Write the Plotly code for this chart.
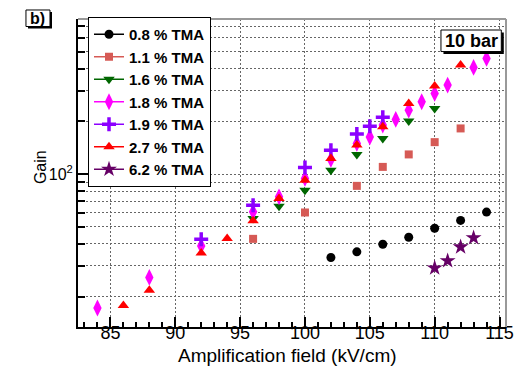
import plotly.graph_objects as go

# ---- data ----
x_08 = [102, 104, 106, 108, 110, 112, 114]
y_08 = [33.4, 36.0, 39.8, 43.6, 49.1, 54.4, 60.7]

x_11 = [96, 100, 104, 106, 108, 110, 112]
y_11 = [42.7, 60.4, 85.7, 110, 129.6, 152.3, 182.4]

x_16 = [96, 98, 100, 102, 104, 106, 108, 110]
y_16 = [55.8, 65.6, 81.0, 105.4, 129.6, 160, 201, 237]

x_18 = [84, 88, 92, 96, 98, 100, 102, 104, 105, 106, 107, 108, 109, 110, 111, 113, 114]
y_18 = [17.2, 25.7, 38.9, 60.9, 74.2, 94.5, 121.4, 149.7, 163, 190.6, 205.4, 232, 259, 289, 322.5, 407, 458]

x_19 = [92, 96, 100, 102, 104, 105, 106]
y_19 = [42.5, 66.5, 109.2, 137, 169.3, 188, 211]

x_27 = [86, 88, 92, 94, 96, 98, 100, 102, 104, 106, 108, 110, 112]
y_27 = [17.8, 21.7, 35.5, 42.9, 54.1, 72.6, 92.4, 123, 146.5, 186.4, 253.5, 318.4, 419.7]

x_62 = [110, 111, 112, 113]
y_62 = [29.1, 32.0, 38.4, 43.3]

labels = ["0.8 % TMA", "1.1 % TMA", "1.6 % TMA", "1.8 % TMA", "1.9 % TMA", "2.7 % TMA", "6.2 % TMA"]
x_major_ticks = [85, 90, 95, 100, 105, 110, 115]
y_major_ticks = [100]
y_major_text = ["10<sup>2</sup>"]
y_minor_ticks = [20, 30, 40, 50, 60, 70, 80, 90, 200, 300, 400, 500, 600, 700]

series = [
    (x_08, y_08, "circle", "#000000", 9),
    (x_11, y_11, "square", "#d65a55", 8),
    (x_16, y_16, "triangle-down", "#006600", 10),
    (x_18, y_18, "diamond-tall", "#ff00ff", 12),
    (x_19, y_19, "cross-thin", "#8c00ff", 10),
    (x_27, y_27, "triangle-up", "#ff0000", 10),
    (x_62, y_62, "star", "#660066", 12),
]

FONT = "Liberation Sans, Arial, Helvetica, sans-serif"
fig = go.Figure()

def mk(sym, col, sz):
    m = dict(symbol=sym, color=col, size=sz)
    if sym == "cross-thin":
        m["line"] = dict(color=col, width=3.5)
    return m

for (xs, ys, sym, col, sz), lab in zip(series, labels):
    fig.add_trace(go.Scatter(x=xs, y=ys, mode="markers", marker=mk(sym, col, sz),
                             showlegend=False, cliponaxis=False))

# legend-only entries (line + marker like the original legend)
for (xs, ys, sym, col, sz), lab in zip(series, labels):
    fig.add_trace(go.Scatter(x=[None], y=[None], mode="lines+markers", name=lab,
                             marker=mk(sym, col, sz), line=dict(color=col, width=1.5)))

# plot area geometry (pixels)
W, H = 531, 368
L, R, T, B = 78, 505.7, 19, 326.7
pw, ph = R - L, B - T

def px(x):
    return (x - L) / pw

def py(y):
    return 1 - (y - T) / ph

fig.update_layout(
    width=W, height=H,
    margin=dict(l=L, r=W - R, t=T, b=H - B, pad=0),
    paper_bgcolor="white", plot_bgcolor="white",
    font=dict(family=FONT, color="black"),
    legend=dict(x=px(88), y=py(17), xanchor="left", yanchor="top",
                bgcolor="white", bordercolor="black", borderwidth=1,
                font=dict(family=FONT, size=15, color="black", weight="bold"),
                tracegroupgap=0, itemclick=False),
    xaxis=dict(range=[82.5, 115.5], tickmode="array", tickvals=x_major_ticks,
               ticks="inside", ticklen=10, tickwidth=1.5, tickcolor="black",
               showline=True, linecolor="black", linewidth=2,
               showgrid=True, gridcolor="#666666", griddash="2px,2px", gridwidth=1,
               zeroline=False, ticklabelstandoff=-12,
               tickfont=dict(family=FONT, size=18, color="black"),
               minor=dict(dtick=1, tick0=85, ticks="inside", ticklen=5,
                          tickcolor="black", tickwidth=1.5, showgrid=False)),
    yaxis=dict(type="log", range=[1.127, 2.886], tickmode="array",
               tickvals=y_major_ticks, ticktext=y_major_text,
               ticks="inside", ticklen=12, tickwidth=1.5, tickcolor="black",
               showline=True, linecolor="black", linewidth=2,
               showgrid=True, gridcolor="#666666", griddash="2px,2px", gridwidth=1,
               zeroline=False,
               tickfont=dict(family=FONT, size=16, color="black"),
               minor=dict(tickmode="array", tickvals=y_minor_ticks, ticks="inside",
                          ticklen=7, tickcolor="black", tickwidth=1.5,
                          showgrid=True, gridcolor="#666666", griddash="2px,2px",
                          gridwidth=1)),
)

shapes = []
# top and right frame lines (gray)
shapes.append(dict(type="line", xref="paper", yref="paper", x0=0, x1=1, y0=1, y1=1,
                   line=dict(color="#999999", width=2)))
shapes.append(dict(type="line", xref="paper", yref="paper", x0=1, x1=1, y0=0, y1=1,
                   line=dict(color="#999999", width=2)))

def pave(x0, y0, x1, y1, off):
    shapes.append(dict(type="rect", xref="paper", yref="paper",
                       x0=px(x0 + off), x1=px(x1 + off), y0=py(y0 + off), y1=py(y1 + off),
                       fillcolor="black", line=dict(width=0), layer="above"))
    shapes.append(dict(type="rect", xref="paper", yref="paper",
                       x0=px(x0), x1=px(x1), y0=py(y0), y1=py(y1),
                       fillcolor="white", line=dict(color="black", width=1), layer="above"))

pave(26, 10, 50, 26.5, 2)
pave(440.7, 30, 501, 51.5, 2.5)
fig.update_layout(shapes=shapes)

annotations = [
    dict(text="<b>b)</b>", x=px(38), y=py(18.3), xref="paper", yref="paper",
         showarrow=False, xanchor="center", yanchor="middle",
         font=dict(family=FONT, size=16, color="black")),
    dict(text="<b>10 bar</b>", x=px(471), y=py(41), xref="paper", yref="paper",
         showarrow=False, xanchor="center", yanchor="middle",
         font=dict(family=FONT, size=18, color="black")),
    dict(text="Amplification field (kV/cm)", x=px(399), y=py(355.5), xref="paper", yref="paper",
         showarrow=False, xanchor="right", yanchor="middle",
         font=dict(family=FONT, size=19, color="black")),
    dict(text="Gain", x=px(40), y=py(167), xref="paper", yref="paper",
         showarrow=False, xanchor="center", yanchor="middle", textangle=-90,
         font=dict(family=FONT, size=16, color="black")),
]
fig.update_layout(annotations=annotations)

fig.write_html("out.html")
